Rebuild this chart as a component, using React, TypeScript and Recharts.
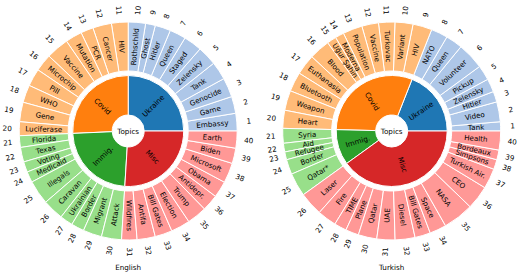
import { PieChart, Pie, Cell } from "recharts";

const RADIAN = Math.PI / 180;
const FONT = "DejaVu Sans, sans-serif";
const FS = 7.2;

// tab20 pairs
const TOPICS = ["Ukraine", "Covid", "Immig.", "Misc"];
const DARK = ["#1f77b4", "#ff7f0e", "#2ca02c", "#d62728"];
const LIGHT = ["#aec7e8", "#ffbb78", "#98df8a", "#ff9896"];

// English: terms counter-clockwise from 3 o'clock, shares in degrees
const EN_TERMS = [
  "Embassy", "Game", "Genocide", "Tank", "Zelensky", "Staged", "Queen", "Hitler", "Ghost", "Rothschild",
  "HIV", "Cancer", "PCR", "Mutation", "Vaccine", "Microchip", "Pill", "WHO", "Gene", "Luciferase",
  "Florida", "Texas", "Voting", "Medicaid", "Illegals", "Caravan", "Ukrainian", "Border", "Migrant", "Attack",
  "Wildfires", "Antifa", "Bill Gates", "Election", "Trump", "Antidepr.", "Obama", "Microsoft", "Biden", "Earth",
];
const EN_SHARES = [
  9.4, 9, 10.3, 9.7, 10.4, 9.8, 8.7, 8.3, 5.2, 9.2,
  8.9, 10, 6.7, 8.9, 12.1, 9.3, 9.4, 9.4, 10.4, 7.4,
  6.2, 7.8, 5.6, 5.8, 12.9, 11.2, 6.9, 6.9, 10, 10.7,
  8.2, 9.7, 9.2, 10.2, 10.6, 8.8, 8.8, 10.7, 8.2, 9.1,
];
const EN_GROUP_SIZES = [10, 10, 10, 10];

// Turkish
const TR_TERMS = [
  "Tank", "Video", "Hitler", "Zelensky", "Pickup", "Volunteer", "Queen", "NATO",
  "HIV", "Variant", "Turkovac", "Vaccine", "Population", "Moderna", "Uğur Şahin", "Blood",
  "Euthanasia", "Bluetooth", "Weapon", "Heart",
  "Syria", "Aid", "Refugee", "Border", "Qatar*",
  "Laser", "Fire", "TIME", "Plane", "Qatar", "UAE", "Diesel", "Bill Gates", "Space", "NASA",
  "CEO", "Turkish Air.", "Simpsons", "Bordeaux", "Health",
];
const TR_SHARES = [
  4.9, 10.6, 5.7, 7.1, 8, 14.3, 9, 8.9,
  10.2, 9.6, 8.7, 8.9, 10.4, 4.7, 5, 11.1,
  10.9, 10.4, 10.6, 9.6,
  7.9, 4.6, 4.2, 8, 12.5,
  12.6, 10.2, 6.6, 7, 9.9, 9.7, 10.6, 8.3, 8.9, 16.4,
  12.7, 10.8, 5.2, 5.2, 10.1,
];
const TR_GROUP_SIZES = [8, 12, 5, 15];

function buildRing(terms: string[], shares: number[], sizes: number[]) {
  const out: { name: string; value: number; group: number; num: number }[] = [];
  let k = 0;
  sizes.forEach((n, g) => {
    for (let i = 0; i < n; i++) {
      out.push({ name: terms[k], value: shares[k], group: g, num: k + 1 });
      k++;
    }
  });
  return out;
}

function buildTopics(ring: { value: number; group: number }[]) {
  return TOPICS.map((t, g) => ({
    name: t,
    value: ring.filter((d) => d.group === g).reduce((s, d) => s + d.value, 0),
  }));
}

function plainText(x: number, y: number, text: string, rot = 0) {
  return (
    <text
      x={x}
      y={y}
      transform={rot ? `rotate(${-rot} ${x} ${y})` : undefined}
      textAnchor="middle"
      dominantBaseline="central"
      fill="#000"
      fontSize={FS}
      fontFamily={FONT}
    >
      {text}
    </text>
  );
}

// text along the radius, flipped on the left half so it stays readable
function radialText(cx: number, cy: number, angle: number, r: number, text: string) {
  const x = cx + r * Math.cos(-angle * RADIAN);
  const y = cy + r * Math.sin(-angle * RADIAN);
  let rot = ((angle % 360) + 360) % 360;
  if (rot > 90 && rot < 270) rot -= 180;
  return plainText(x, y, text, rot);
}

const CHARTS = [
  { title: "English", cx: 128.2, ring: buildRing(EN_TERMS, EN_SHARES, EN_GROUP_SIZES) },
  { title: "Turkish", cx: 391.7, ring: buildRing(TR_TERMS, TR_SHARES, TR_GROUP_SIZES) },
];
const CY = 131;

export default function App() {
  return (
    <div style={{ position: "absolute", left: 0, top: 0, width: 520, height: 274, background: "#fff" }}>
      <PieChart width={520} height={274} margin={{ top: 0, right: 0, bottom: 0, left: 0 }}>
        {CHARTS.map((c) => [
          <Pie
            key={c.title + "-inner"}
            data={buildTopics(c.ring)}
            dataKey="value"
            nameKey="name"
            cx={c.cx}
            cy={CY}
            innerRadius={16}
            outerRadius={55.5}
            startAngle={0}
            endAngle={360}
            isAnimationActive={false}
            labelLine={false}
            label={(p: any) => (
              <g>
                {radialText(c.cx, CY, p.midAngle, 35.5, p.name)}
                {p.index === 0 ? plainText(c.cx, CY, "Topics") : null}
              </g>
            )}
          >
            {TOPICS.map((t, i) => (
              <Cell key={t} fill={DARK[i]} stroke="#fff" strokeWidth={1} />
            ))}
          </Pie>,
          <Pie
            key={c.title + "-outer"}
            data={c.ring}
            dataKey="value"
            nameKey="name"
            cx={c.cx}
            cy={CY}
            innerRadius={60}
            outerRadius={109}
            startAngle={0}
            endAngle={360}
            isAnimationActive={false}
            labelLine={false}
            label={(p: any) => (
              <g>
                {radialText(c.cx, CY, p.midAngle, 84.5, p.name)}
                {radialText(c.cx, CY, p.midAngle, 121, String(p.index + 1))}
              </g>
            )}
          >
            {c.ring.map((d) => (
              <Cell key={d.num} fill={LIGHT[d.group]} stroke="#fff" strokeWidth={1} />
            ))}
          </Pie>,
        ])}
      </PieChart>
      {CHARTS.map((c) => (
        <div
          key={c.title}
          style={{
            position: "absolute",
            left: c.cx - 40,
            width: 80,
            top: 263,
            lineHeight: "10px",
            textAlign: "center",
            fontSize: FS,
            fontFamily: FONT,
            color: "#000",
          }}
        >
          {c.title}
        </div>
      ))}
    </div>
  );
}
